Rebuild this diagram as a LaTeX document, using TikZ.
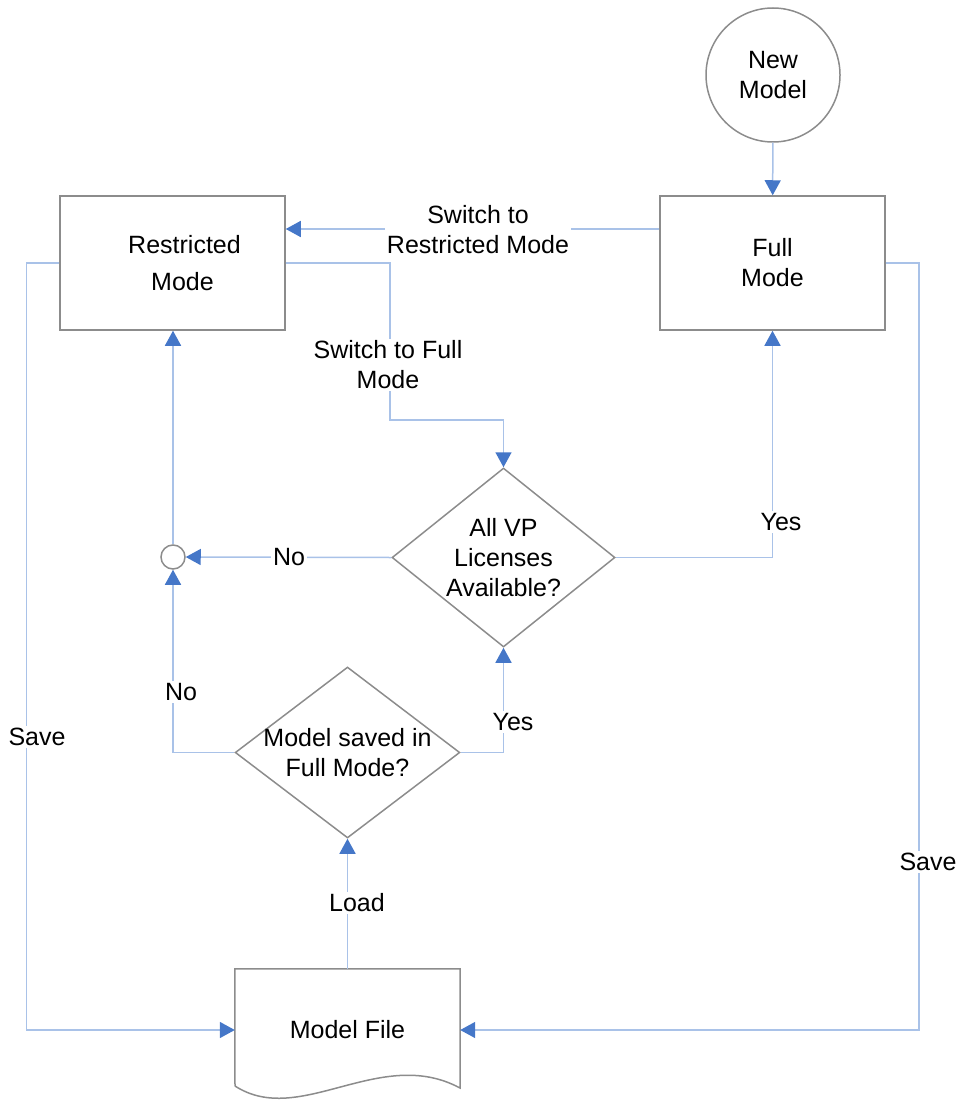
\documentclass[tikz,border=0pt]{standalone}
\usepackage{fontspec}
\setmainfont{Liberation Sans}
\usepackage{xcolor}
\usepackage{tikz}
\usetikzlibrary{shapes.geometric,arrows.meta,positioning,calc}
\definecolor{linec}{HTML}{A9C2E8}
\definecolor{tipc}{HTML}{4577C8}
\definecolor{boxc}{HTML}{8C8C8C}

\begin{document}
\begin{tikzpicture}[x=1pt, y=-1pt, font=\fontsize{25}{30}\selectfont,
  box/.style={draw=boxc, line width=1.5pt, rectangle, minimum width=225pt, minimum height=134pt, align=center},
  decide/.style={draw=boxc, line width=1.5pt, diamond, minimum width=223pt, minimum height=179pt, inner sep=0pt, align=center},
  flow/.style={draw=linec, line width=1.5pt, -{Triangle[width=16pt,length=15pt,color=tipc]}},
  lbl/.style={fill=white, inner sep=2pt, align=center}]
\useasboundingbox (0,0) rectangle (964,1102);

\node[circle, draw=boxc, line width=1.5pt, minimum size=134pt, align=center] (newm) at (773,75) {New\\Model};
\node[box] (fmode) at (772.5,263) {Full\\Mode};
\node[box] (rmode) at (172.5,263) {\hspace*{24pt}Restricted\\[7pt]\hspace*{20pt}Mode};
\node[decide, aspect=1.25] (lic) at (503.5,557.5) {All VP\\Licenses\\Available?};
\node[decide, aspect=1.5, inner xsep=-8pt, minimum height=171pt] (saved) at (347.5,752.5) {Model saved in\\Full Mode?};
\node[circle, draw=boxc, line width=1.5pt, minimum size=24pt, inner sep=0pt] (join) at (173,557) {};
\node[minimum width=225pt, minimum height=122pt] (mfile) at (347.5,1030) {Model\ File};
% document shape round the file node
\draw[boxc, line width=1.5pt] (235,1086) -- (mfile.north west) -- (mfile.north east) -- (460,1088)
  .. controls (380,1045) and (300,1128) .. (235,1086);

% connectors
\draw[flow] (newm) -- (fmode);
\draw[flow] ([yshift=34pt]fmode.west) -- ([yshift=34pt]rmode.east);
\draw[flow] (rmode.east) -| (390,420) -| (lic.north);
\draw[flow] (lic.east) -| (fmode.south);
\draw[flow] (lic.west) -- (join.east);
\draw[flow] (join.north) -- (join.north |- rmode.south);
\draw[flow] (saved.west) -| (join.south);
\draw[flow] (saved.east) -| (lic.south);
\draw[flow] (mfile.north) -- (saved.south);
\draw[flow] (rmode.west) -- ++(-33,0) |- (mfile.west);
\draw[flow] (fmode.east) -- ++(33,0) |- (mfile.east);

% labels
\node[lbl] (lblrest) at (478,230) {Switch to\\Restricted Mode};
\node[lbl] (lblfull) at (388,365) {Switch to Full\\Mode};
\node[lbl] (lblyes1) at (781,522) {Yes};
\node[lbl] (lblno1) at (289,557) {No};
\node[lbl] (lblno2) at (181,692) {No};
\node[lbl] (lblyes2) at (513,722) {Yes};
\node[lbl] (lblload) at (357,903) {Load};
\node[lbl] (lblsave1) at (37,737) {Save};
\node[lbl] (lblsave2) at (928,862) {Save};
\end{tikzpicture}
\end{document}
